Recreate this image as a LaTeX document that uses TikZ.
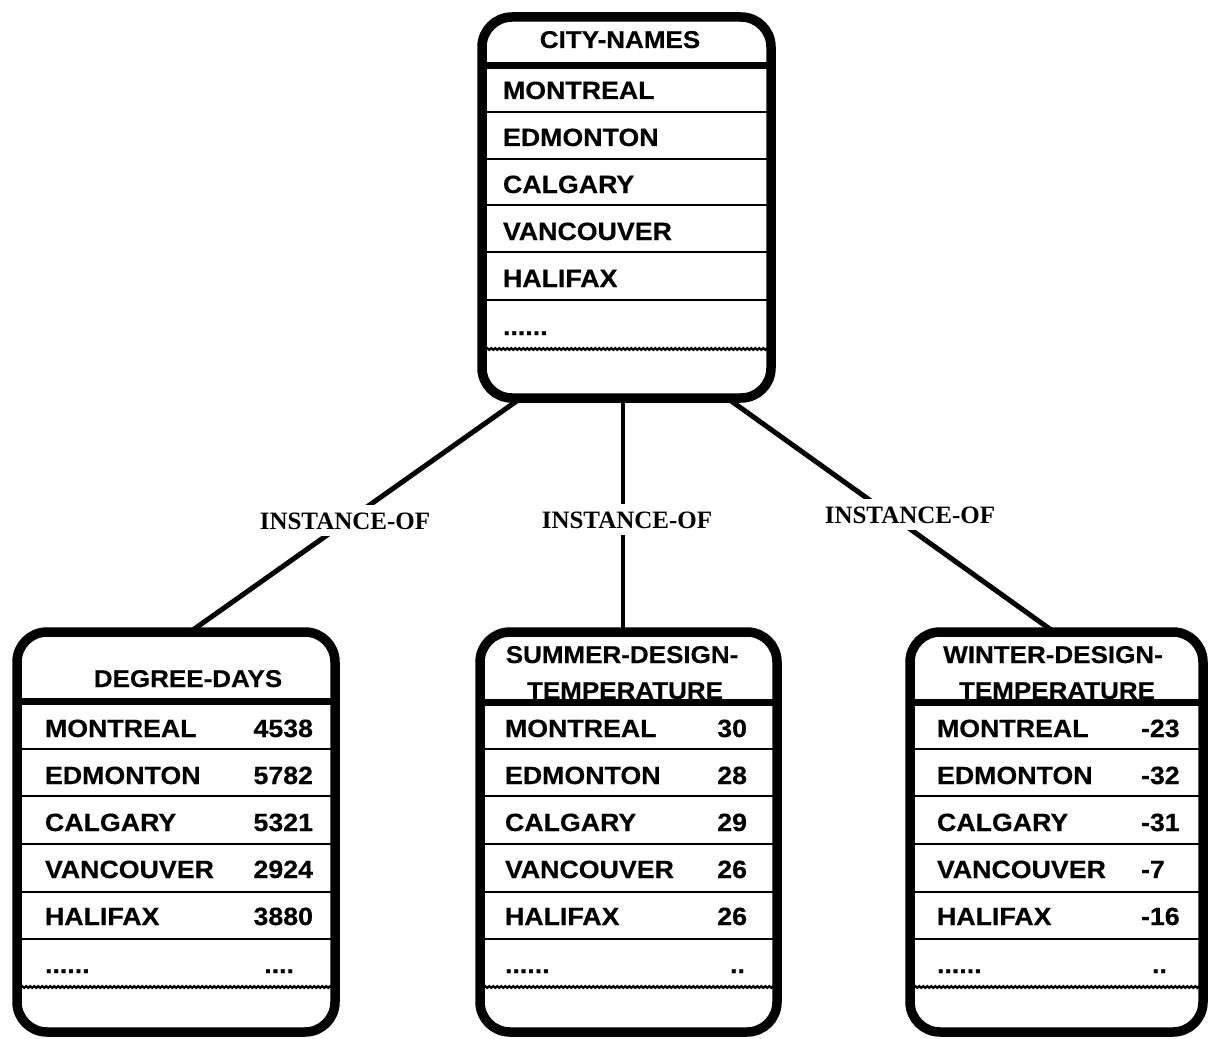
\documentclass[tikz,border=0pt]{standalone}
\usepackage{fontspec}
\setmainfont{Liberation Sans}[BoldFeatures={FakeStretch=1.07,FakeBold=0.4}]
\newfontfamily\serifb{Liberation Serif}
\usetikzlibrary{calc,decorations.pathmorphing}
\pgfdeclarelayer{bg}
\pgfsetlayers{bg,main}
\tikzset{
  frame/.style={draw, line width=9.5pt, rounded corners=30pt, fill=white, inner sep=0pt, outer sep=0pt},
  cell/.style={font=\fontsize{25}{30}\selectfont\bfseries, inner sep=0pt, outer sep=0pt},
  title/.style={font=\fontsize{24.3}{30}\selectfont\bfseries, inner sep=0pt, outer sep=0pt},
  lbl/.style={font=\serifb\fontsize{25}{30}\selectfont\bfseries, fill=white, inner xsep=2pt, inner ysep=7pt},
  rowline/.style={line width=2.6pt},
  sepline/.style={line width=7pt},
  wavy/.style={line width=2.2pt, decorate, decoration={snake, amplitude=0.9pt, segment length=4pt}},
  conn/.style={line width=5pt},
  connthin/.style={line width=3.2pt}
}
\begin{document}
\begin{tikzpicture}[x=1pt,y=-1pt]
\useasboundingbox (0,0) rectangle (1209,1038);
% ---- frames
\node[frame, minimum width=289, minimum height=381] (top) at (626.5,207.5) {};
\node[frame, minimum width=318, minimum height=400] (left) at (176,832) {};
\node[frame, minimum width=297, minimum height=400] (mid) at (628.5,832) {};
\node[frame, minimum width=293, minimum height=400] (right) at (1056.5,832) {};
% ---- connectors (behind the frames)
\begin{pgfonlayer}{bg}
\draw[conn] ($(top.south)+(-105.5,0)$) -- ($(left.north)+(14,0)$);
\draw[connthin] ($(top.south)+(-3.5,0)$) -- ($(mid.north)+(-5.5,0)$);
\draw[conn] ($(top.south)+(100.5,0)$) -- ($(right.north)+(-2.5,0)$);
\end{pgfonlayer}
% labels
\node[lbl, anchor=base] (l1) at (345,529) {INSTANCE-OF};
\node[lbl, anchor=base] (l2) at (627,528) {INSTANCE-OF};
\node[lbl, anchor=base] (l3) at (910,523) {INSTANCE-OF};
% ---- top box contents
\node[title, anchor=base] (tt) at (620,48) {CITY-NAMES};
\draw[sepline] (top.west |- 0,66) -- (top.east |- 0,66);
\foreach \yy in {112,159,205,252,300} \draw[rowline] (top.west |- 0,\yy) -- (top.east |- 0,\yy);
\draw[wavy] (top.west |- 0,349) -- (top.east |- 0,349);
\node[cell, anchor=base west] (t1) at (503,99) {MONTREAL};
\node[cell, anchor=base west] (t2) at (503,146) {EDMONTON};
\node[cell, anchor=base west] (t3) at (503,193) {CALGARY};
\node[cell, anchor=base west] (t4) at (503,240) {VANCOUVER};
\node[cell, anchor=base west] (t5) at (503,287) {HALIFAX};
\node[cell, anchor=base west] (t6) at (503,335) {......};
% ---- left box
\node[title, anchor=base] (dt) at (188,687) {DEGREE-DAYS};
\foreach \yy in {749,796,844,892,939} \draw[rowline] (left.west |- 0,\yy) -- (left.east |- 0,\yy);
\draw[wavy] (left.west |- 0,987) -- (left.east |- 0,987);
\draw[sepline] (left.west |- 0,701) -- (left.east |- 0,701);
\node[cell, anchor=base west] (d1) at (45,737) {MONTREAL};
\node[cell, anchor=base west] (d2) at (45,784) {EDMONTON};
\node[cell, anchor=base west] (d3) at (45,831) {CALGARY};
\node[cell, anchor=base west] (d4) at (45,878) {VANCOUVER};
\node[cell, anchor=base west] (d5) at (45,925) {HALIFAX};
\node[cell, anchor=base west] (d6) at (45,973) {......};
\node[cell, anchor=base east] (dn1) at (313,737) {4538};
\node[cell, anchor=base east] (dn2) at (313,784) {5782};
\node[cell, anchor=base east] (dn3) at (313,831) {5321};
\node[cell, anchor=base east] (dn4) at (313,878) {2924};
\node[cell, anchor=base east] (dn5) at (313,925) {3880};
\node[cell, anchor=base east] (dn6) at (294,973) {....};
% ---- middle box
\node[title, anchor=base] (st1) at (622,663) {SUMMER-DESIGN-};
\node[title, anchor=base] (st2) at (625,699) {TEMPERATURE};
\foreach \yy in {749,796,844,892,939} \draw[rowline] (mid.west |- 0,\yy) -- (mid.east |- 0,\yy);
\draw[wavy] (mid.west |- 0,987) -- (mid.east |- 0,987);
\draw[sepline] (mid.west |- 0,702) -- (mid.east |- 0,702);
\node[cell, anchor=base west] (s1) at (505,737) {MONTREAL};
\node[cell, anchor=base west] (s2) at (505,784) {EDMONTON};
\node[cell, anchor=base west] (s3) at (505,831) {CALGARY};
\node[cell, anchor=base west] (s4) at (505,878) {VANCOUVER};
\node[cell, anchor=base west] (s5) at (505,925) {HALIFAX};
\node[cell, anchor=base west] (s6) at (505,973) {......};
\node[cell, anchor=base east] (sn1) at (747,737) {30};
\node[cell, anchor=base east] (sn2) at (747,784) {28};
\node[cell, anchor=base east] (sn3) at (747,831) {29};
\node[cell, anchor=base east] (sn4) at (747,878) {26};
\node[cell, anchor=base east] (sn5) at (747,925) {26};
\node[cell, anchor=base east] (sn6) at (745,973) {..};
% ---- right box
\node[title, anchor=base] (wt1) at (1053,663) {WINTER-DESIGN-};
\node[title, anchor=base] (wt2) at (1057,699) {TEMPERATURE};
\foreach \yy in {749,796,844,892,939} \draw[rowline] (right.west |- 0,\yy) -- (right.east |- 0,\yy);
\draw[wavy] (right.west |- 0,987) -- (right.east |- 0,987);
\draw[sepline] (right.west |- 0,702) -- (right.east |- 0,702);
\node[cell, anchor=base west] (w1) at (937,737) {MONTREAL};
\node[cell, anchor=base west] (w2) at (937,784) {EDMONTON};
\node[cell, anchor=base west] (w3) at (937,831) {CALGARY};
\node[cell, anchor=base west] (w4) at (937,878) {VANCOUVER};
\node[cell, anchor=base west] (w5) at (937,925) {HALIFAX};
\node[cell, anchor=base west] (w6) at (937,973) {......};
\node[cell, anchor=base west] (wn1) at (1141,737) {-23};
\node[cell, anchor=base west] (wn2) at (1141,784) {-32};
\node[cell, anchor=base west] (wn3) at (1141,831) {-31};
\node[cell, anchor=base west] (wn4) at (1141,878) {-7};
\node[cell, anchor=base west] (wn5) at (1141,925) {-16};
\node[cell, anchor=base west] (wn6) at (1152,973) {..};
\end{tikzpicture}
\end{document}
